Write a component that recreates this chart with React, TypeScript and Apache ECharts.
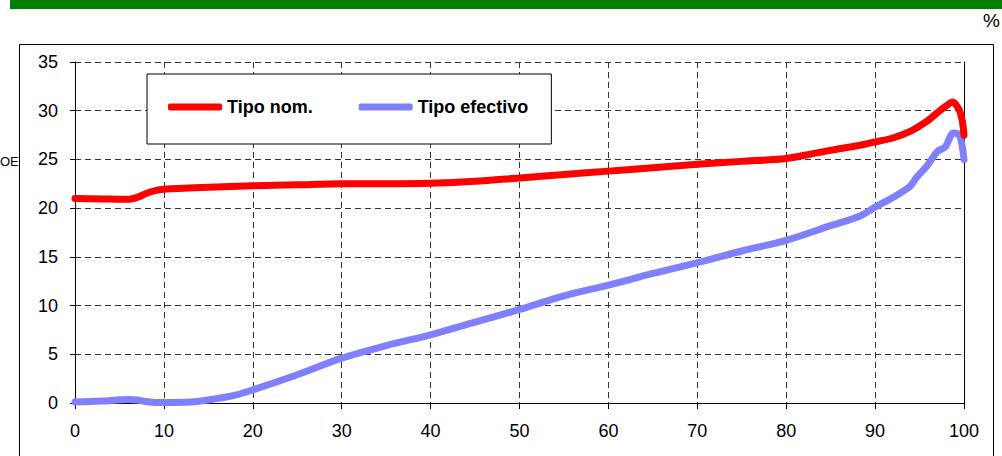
import React, { useEffect, useRef } from "react";
import * as echarts from "echarts";

const xTicks = [0, 10, 20, 30, 40, 50, 60, 70, 80, 90, 100];
const yTicks = [0, 5, 10, 15, 20, 25, 30, 35];

const nomX = [0, 3, 6, 7, 8, 9, 10, 15, 20, 25, 30, 35, 40, 45, 50, 55, 60, 65, 70, 75, 80, 83, 86, 88, 90, 92, 94, 95.8, 97, 98, 98.7, 99.4, 99.8, 100];
const nomY = [21.0, 20.95, 20.9, 21.1, 21.5, 21.8, 21.95, 22.15, 22.3, 22.4, 22.5, 22.5, 22.55, 22.75, 23.1, 23.45, 23.8, 24.15, 24.5, 24.8, 25.1, 25.6, 26.1, 26.4, 26.8, 27.2, 27.9, 28.9, 29.8, 30.5, 30.9, 30.2, 29.0, 27.5];

const efX = [0, 3, 6, 7, 8, 9, 10, 13, 15.6, 18, 20, 25, 30, 35, 40, 45, 50, 55, 60, 65, 70, 75, 80, 85, 88.3, 90, 92, 93.9, 94.7, 95.8, 97, 97.9, 98.8, 99.5, 100];
const efY = [0.1, 0.2, 0.35, 0.3, 0.15, 0.05, 0.05, 0.1, 0.4, 0.8, 1.35, 2.9, 4.6, 5.9, 7.0, 8.3, 9.6, 11.0, 12.1, 13.3, 14.4, 15.6, 16.7, 18.2, 19.2, 20.1, 21.1, 22.2, 23.2, 24.3, 25.8, 26.3, 27.7, 27.5, 25.0];

const seriesNames = ["Tipo nom.", "Tipo efectivo"];

const FONT = "'Liberation Sans', Arial, sans-serif";

export default function App() {
  const ref = useRef<HTMLDivElement>(null);
  useEffect(() => {
    if (!ref.current) return;
    const chart = echarts.init(ref.current, null, { renderer: "svg" });
    const gridColor = "#333";
    chart.setOption({
      animation: false,
      backgroundColor: "#fff",
      textStyle: { fontFamily: FONT },
      grid: { left: 75, right: 38, top: 62, bottom: 53 },
      legend: {
        left: 147,
        top: 74,
        orient: "horizontal",
        padding: [24, 23, 28, 21],
        borderColor: "#000",
        borderWidth: 1,
        backgroundColor: "#fff",
        itemWidth: 54,
        itemHeight: 7,
        itemGap: 46,
        icon: "roundRect",
        textStyle: { fontFamily: FONT, fontSize: 18, fontWeight: "bold", color: "#000" },
        data: seriesNames,
      },
      xAxis: {
        type: "value",
        min: xTicks[0],
        max: xTicks[xTicks.length - 1],
        interval: 10,
        axisLine: { show: true, lineStyle: { color: "#000", width: 1 } },
        axisTick: { show: true, length: 6, lineStyle: { color: "#000" } },
        axisLabel: { fontFamily: FONT, fontSize: 18, color: "#000", margin: 19 },
        splitLine: { show: true, lineStyle: { color: gridColor, type: [6, 4], width: 1 } },
      },
      yAxis: [
        {
          type: "value",
          min: yTicks[0],
          max: yTicks[yTicks.length - 1],
          interval: 5,
          axisLine: { show: true, lineStyle: { color: "#000", width: 1 } },
          axisTick: { show: true, length: 5, lineStyle: { color: "#000" } },
          axisLabel: { fontFamily: FONT, fontSize: 18, color: "#000", margin: 17 },
          splitLine: { show: true, lineStyle: { color: gridColor, type: [6, 4], width: 1 } },
        },
        {
          type: "value",
          position: "right",
          min: yTicks[0],
          max: yTicks[yTicks.length - 1],
          interval: 5,
          axisLine: { show: true, lineStyle: { color: "#000", width: 1 } },
          axisTick: { show: false },
          axisLabel: { show: false },
          splitLine: { show: false },
        },
      ],
      series: [
        {
          name: seriesNames[0],
          type: "line",
          data: nomX.map((x, i) => [x, nomY[i]]),
          showSymbol: false,
          smooth: 0.3,
          color: "#FF0000",
          lineStyle: { color: "#FF0000", width: 7, cap: "round", join: "round" },
          z: 3,
        },
        {
          name: seriesNames[1],
          type: "line",
          data: efX.map((x, i) => [x, efY[i]]),
          showSymbol: false,
          smooth: 0.3,
          color: "#8080FF",
          lineStyle: { color: "#8080FF", width: 7, cap: "round", join: "round" },
          z: 2,
        },
      ],
      graphic: [
        { type: "rect", shape: { x: 10, y: 0, width: 992, height: 9 }, style: { fill: "#008000" } },
        {
          type: "text",
          right: 2,
          top: 11,
          style: { text: "%", font: `19px ${FONT}`, fill: "#000" },
        },
        {
          type: "rect",
          shape: { x: 19.5, y: 44.5, width: 974, height: 500 },
          style: { fill: "none", stroke: "#000", lineWidth: 1 },
          silent: true,
        },
        {
          type: "text",
          x: 0,
          y: 155,
          style: { text: "OE", font: `13px ${FONT}`, fill: "#000" },
        },
      ],
    });
    return () => chart.dispose();
  }, []);
  return (
    <div
      ref={ref}
      style={{ position: "absolute", left: 0, top: 0, width: 1002, height: 456 }}
    />
  );
}
